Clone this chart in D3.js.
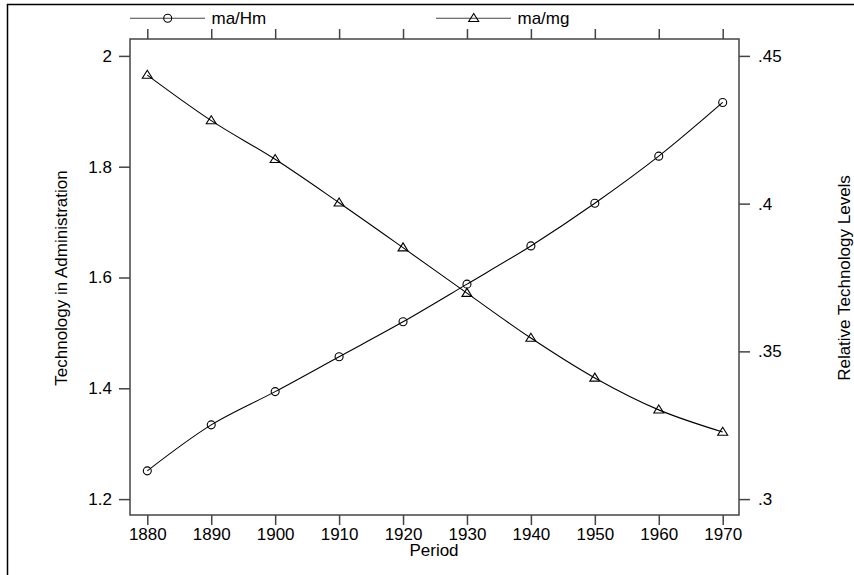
<!DOCTYPE html>
<html>
<head>
<meta charset="utf-8">
<script src="https://cdn.jsdelivr.net/npm/d3@7/dist/d3.min.js"></script>
<style>
  html, body { margin: 0; padding: 0; background: #fff; }
  svg { display: block; font-family: "Liberation Sans", Arial, sans-serif; }
</style>
</head>
<body>
<svg id="chart" width="854" height="575"></svg>
<script>
// Decades on the x axis
const periods = [1880, 1890, 1900, 1910, 1920, 1930, 1940, 1950, 1960, 1970];
// ma/Hm — technology in administration (left axis)
const maHm = [1.251, 1.334, 1.394, 1.457, 1.520, 1.588, 1.657, 1.734, 1.819, 1.916];
// ma/mg — relative technology level (right axis)
const maMg = [0.4435, 0.4281, 0.4150, 0.4003, 0.3851, 0.3697, 0.3545, 0.3410, 0.3302, 0.3227];
// Tick values
const leftTicks = [1.2, 1.4, 1.6, 1.8, 2];
const rightTicks = [0.3, 0.35, 0.4, 0.45];
const seriesNames = ["ma/Hm", "ma/mg"];

const svg = d3.select("#chart");
const frame = { left: 130, right: 739, top: 39, bottom: 515 };
const axisColor = "#444";
const fontSize = 17;

// Outer border of the graph region
svg.append("rect")
  .attr("x", 7.5).attr("y", 4.5)
  .attr("width", 900).attr("height", 620)
  .attr("fill", "none").attr("stroke", "#000").attr("stroke-width", 1.5);

const x = d3.scaleLinear().domain([1880, 1970]).range([147.3, 722.7]);
const yL = d3.scaleLinear().domain([1.2, 2]).range([499.1, 55.9]);
const yR = d3.scaleLinear().domain([0.3, 0.45]).range([499.1, 55.9]);

// Plot region frame
svg.append("rect")
  .attr("x", frame.left).attr("y", frame.top)
  .attr("width", frame.right - frame.left).attr("height", frame.bottom - frame.top)
  .attr("fill", "none").attr("stroke", axisColor).attr("stroke-width", 1.5);

function styleAxis(g) {
  g.select(".domain").remove();
  g.selectAll(".tick line").attr("stroke", axisColor).attr("stroke-width", 1.5);
  g.selectAll(".tick text").attr("fill", "#000").attr("font-size", fontSize)
    .attr("font-family", "'Liberation Sans', Arial, sans-serif");
}

// Bottom axis with labels
svg.append("g")
  .attr("transform", `translate(0,${frame.bottom})`)
  .call(d3.axisBottom(x).tickValues(periods).tickFormat(d3.format("d")).tickSize(10).tickPadding(3))
  .call(styleAxis);

// Top axis: ticks only
svg.append("g")
  .attr("transform", `translate(0,${frame.top})`)
  .call(d3.axisTop(x).tickValues(periods).tickFormat("").tickSize(10))
  .call(styleAxis);

// Left axis
svg.append("g")
  .attr("transform", `translate(${frame.left},0)`)
  .call(d3.axisLeft(yL).tickValues(leftTicks).tickFormat(d => d3.format(".1f")(d).replace(/\.0$/, "")).tickSize(11).tickPadding(7))
  .call(styleAxis);

// Right axis
svg.append("g")
  .attr("transform", `translate(${frame.right},0)`)
  .call(d3.axisRight(yR).tickValues(rightTicks).tickFormat(d => String(+d.toFixed(2)).replace(/^0/, "")).tickSize(11).tickPadding(8))
  .call(styleAxis);

// Axis titles
svg.append("text")
  .attr("transform", "translate(67,278) rotate(-90)")
  .attr("text-anchor", "middle").attr("font-size", fontSize)
  .text("Technology in Administration");
svg.append("text")
  .attr("transform", "translate(850,278) rotate(-90)")
  .attr("text-anchor", "middle").attr("font-size", fontSize)
  .text("Relative Technology Levels");
svg.append("text")
  .attr("x", 434).attr("y", 556)
  .attr("text-anchor", "middle").attr("font-size", fontSize)
  .text("Period");

const curve = d3.curveCatmullRom.alpha(0.5);

// ma/Hm line and circle markers
const lineL = d3.line().x((d, i) => x(periods[i])).y(d => yL(d)).curve(curve);
svg.append("path").datum(maHm)
  .attr("d", lineL).attr("fill", "none").attr("stroke", "#000").attr("stroke-width", 1.1);
svg.append("g").selectAll("circle").data(maHm).join("circle")
  .attr("cx", (d, i) => x(periods[i])).attr("cy", d => yL(d)).attr("r", 4)
  .attr("fill", "none").attr("stroke", "#000").attr("stroke-width", 1.1);

// ma/mg line and triangle markers
const lineR = d3.line().x((d, i) => x(periods[i])).y(d => yR(d)).curve(curve);
svg.append("path").datum(maMg)
  .attr("d", lineR).attr("fill", "none").attr("stroke", "#000").attr("stroke-width", 1.1);

function trianglePath(cx, cy) {
  const h = 8, w = 10;
  return `M${cx},${cy - h * 0.6}L${cx + w / 2},${cy + h * 0.4}L${cx - w / 2},${cy + h * 0.4}Z`;
}
svg.append("g").selectAll("path").data(maMg).join("path")
  .attr("d", (d, i) => trianglePath(x(periods[i]), yR(d)))
  .attr("fill", "none").attr("stroke", "#000").attr("stroke-width", 1.1);

// Legend
const legendY = 18.3;
const legend = svg.append("g");
const entries = [
  { name: seriesNames[0], x0: 130, marker: "circle" },
  { name: seriesNames[1], x0: 436, marker: "triangle" }
];
entries.forEach(e => {
  legend.append("line")
    .attr("x1", e.x0).attr("x2", e.x0 + 75).attr("y1", legendY).attr("y2", legendY)
    .attr("stroke", "#444").attr("stroke-width", 1.1);
  if (e.marker === "circle") {
    legend.append("circle").attr("cx", e.x0 + 37.7).attr("cy", legendY).attr("r", 4)
      .attr("fill", "none").attr("stroke", "#000").attr("stroke-width", 1.1);
  } else {
    legend.append("path").attr("d", trianglePath(e.x0 + 37.7, legendY))
      .attr("fill", "none").attr("stroke", "#000").attr("stroke-width", 1.1);
  }
  legend.append("text")
    .attr("x", e.x0 + 81.5).attr("y", legendY + 6)
    .attr("font-size", fontSize).text(e.name);
});
</script>
</body>
</html>
